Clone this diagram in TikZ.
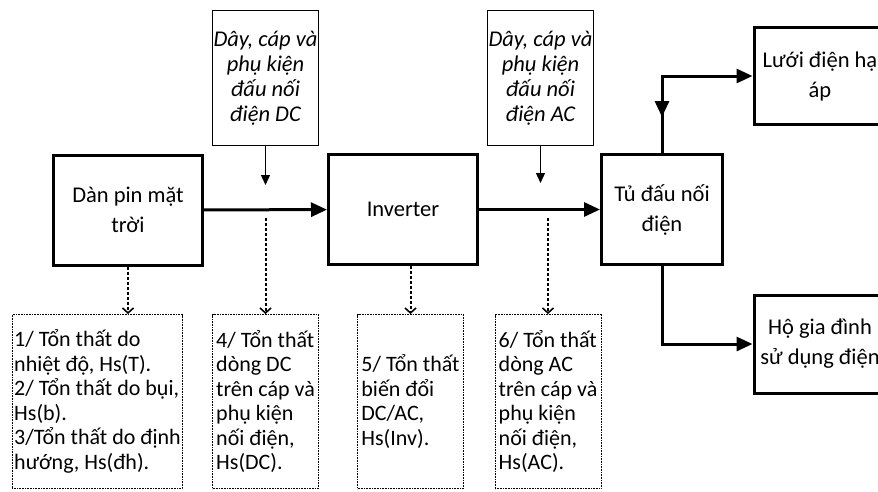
\documentclass[tikz,border=0pt]{standalone}
\usepackage{fontspec}
\setmainfont{Carlito}
\usetikzlibrary{arrows.meta,positioning}

\begin{document}
\begin{tikzpicture}[x=1pt,y=-1pt,
  blk/.style={draw, line width=3pt, align=center, inner sep=2pt, font=\fontsize{22.5}{30}\selectfont},
  src/.style={draw, line width=1pt, align=center, minimum width=106pt, minimum height=135pt, inner sep=1pt, font=\fontsize{22.5}{25}\selectfont\itshape},
  loss/.style={draw, line width=0.9pt, dash pattern=on 1pt off 0.6pt, align=left, minimum height=174pt, inner sep=2pt, font=\fontsize{22}{24.5}\selectfont},
  main/.style={line width=3pt, -{Triangle[length=16pt,width=14pt]}},
  feed/.style={line width=1.3pt, -{Triangle[length=10pt,width=9pt]}},
  drop/.style={line width=2pt, dash pattern=on 3pt off 2pt, -{Straight Barb[length=5pt,width=11pt,line width=1.6pt]}}]
\useasboundingbox (0,0) rectangle (878,491);
\clip (0,0) rectangle (878,491);
% main chain
\node[blk, minimum width=149pt, minimum height=110pt] (pin) at (128,210) {Dàn pin mặt\\trời};
\node[blk, minimum width=149pt, minimum height=110pt] (inv) at (403,209.5) {Inverter};
\node[blk, minimum width=121pt, minimum height=110pt] (tu) at (662,209.5) {Tủ đấu nối\\điện};
\node[blk, minimum width=132pt, minimum height=97pt] (luoi) at (820,76) {Lưới điện hạ\\áp};
\node[blk, minimum width=132pt, minimum height=98pt] (ho) at (820,344) {Hộ gia đình\\sử dụng điện};
% cables
\node[src] (dc) at (265.5,78) {Dây, cáp và\\phụ kiện\\đấu nối\\điện DC};
\node[src] (ac) at (540.5,78) {Dây, cáp và\\phụ kiện\\đấu nối\\điện AC};
% losses
\node[loss, minimum width=168pt] (l1) at (97.5,401.5) {1/ Tổn thất do\\nhiệt độ, Hs(T).\\2/ Tổn thất do bụi,\\Hs(b).\\3/Tổn thất do định\\hướng, Hs(đh).};
\node[loss, minimum width=106pt] (l4) at (265.5,401.5) {4/ Tổn thất\\dòng DC\\trên cáp và\\phụ kiện\\nối điện,\\Hs(DC).};
\node[loss, minimum width=106pt] (l5) at (410.5,401.5) {5/ Tổn thất\\biến đổi\\DC/AC,\\Hs(Inv).};
\node[loss, minimum width=106pt] (l6) at (548,401.5) {6/ Tổn thất\\dòng AC\\trên cáp và\\phụ kiện\\nối điện,\\Hs(AC).};

\draw[main] (pin) -- (inv);
\draw[main] (inv) -- (tu);
\draw[main] (tu.north) |- (luoi.west);
\coordinate (ve) at (662,117);
\draw[main] (tu.north |- luoi.west) -- (ve);
\draw[main] (tu.south) |- (ho.west);

\coordinate (dcin) at (265.5,185);
\coordinate (acin) at (540.5,183);
\draw[feed] (dc.south) -- (dcin);
\draw[feed] (ac.south) -- (acin);

\coordinate (dcl) at (265.5,218);
\coordinate (acl) at (548,218);
\draw[drop] (pin.south) -- (pin.south |- l1.north);
\draw[drop] (dcl) -- (l4.north);
\draw[drop] (l5.north |- inv.south) -- (l5.north);
\draw[drop] (acl) -- (l6.north);
\end{tikzpicture}
\end{document}
